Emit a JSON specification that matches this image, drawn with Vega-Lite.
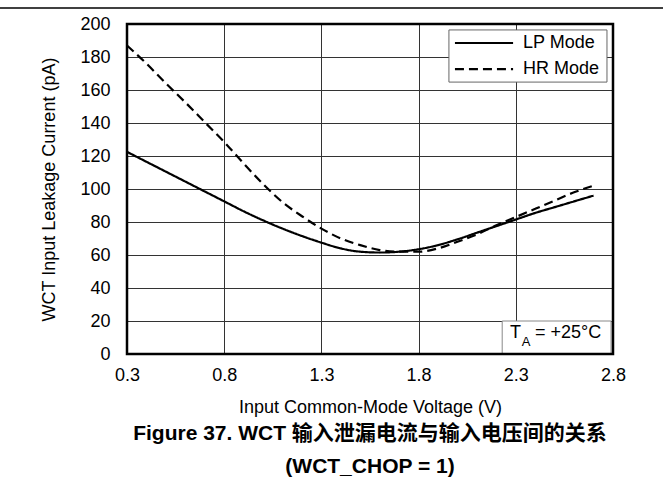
{
  "$schema": "https://vega.github.io/schema/vega-lite/v6.json",
  "width": 486,
  "height": 330,
  "autosize": {"type": "none"},
  "padding": {"left": 127, "top": 24, "right": 50, "bottom": 139},
  "background": "white",
  "config": {
    "font": "Liberation Sans, Noto Sans CJK SC",
    "view": {"stroke": null},
    "axis": {
      "labelFont": "Liberation Sans",
      "titleFont": "Liberation Sans",
      "labelFontSize": 18,
      "titleFontSize": 18,
      "titleFontWeight": "normal",
      "labelColor": "black",
      "titleColor": "black",
      "gridColor": "#333333",
      "gridOpacity": 1,
      "gridWidth": 1,
      "ticks": false,
      "domain": false,
      "labelOverlap": false,
      "labelFlush": false,
      "labelBound": false
    }
  },
  "title": {
    "text": ["Figure 37. WCT 输入泄漏电流与输入电压间的关系", "(WCT_CHOP = 1)"],
    "orient": "bottom",
    "anchor": "middle",
    "font": "Liberation Sans, Noto Sans CJK SC",
    "fontSize": 21,
    "fontWeight": "bold",
    "color": "black",
    "lineHeight": 33,
    "offset": 7
  },
  "data": {
    "values": [
      {"v": 0.3, "current": 122.5, "mode": "LP Mode"},
      {"v": 0.4, "current": 116.5, "mode": "LP Mode"},
      {"v": 0.5, "current": 110.5, "mode": "LP Mode"},
      {"v": 0.6, "current": 104.5, "mode": "LP Mode"},
      {"v": 0.7, "current": 98.5, "mode": "LP Mode"},
      {"v": 0.8, "current": 92.5, "mode": "LP Mode"},
      {"v": 0.9, "current": 86.5, "mode": "LP Mode"},
      {"v": 1.0, "current": 81, "mode": "LP Mode"},
      {"v": 1.1, "current": 76, "mode": "LP Mode"},
      {"v": 1.2, "current": 71.5, "mode": "LP Mode"},
      {"v": 1.3, "current": 67.5, "mode": "LP Mode"},
      {"v": 1.4, "current": 64, "mode": "LP Mode"},
      {"v": 1.5, "current": 62, "mode": "LP Mode"},
      {"v": 1.6, "current": 61.5, "mode": "LP Mode"},
      {"v": 1.7, "current": 62, "mode": "LP Mode"},
      {"v": 1.8, "current": 63.5, "mode": "LP Mode"},
      {"v": 1.9, "current": 66, "mode": "LP Mode"},
      {"v": 2.0, "current": 69.5, "mode": "LP Mode"},
      {"v": 2.1, "current": 73.5, "mode": "LP Mode"},
      {"v": 2.2, "current": 77.5, "mode": "LP Mode"},
      {"v": 2.3, "current": 81.5, "mode": "LP Mode"},
      {"v": 2.4, "current": 85.5, "mode": "LP Mode"},
      {"v": 2.5, "current": 89, "mode": "LP Mode"},
      {"v": 2.6, "current": 92.5, "mode": "LP Mode"},
      {"v": 2.7, "current": 96, "mode": "LP Mode"},
      {"v": 0.3, "current": 187, "mode": "HR Mode"},
      {"v": 0.4, "current": 176, "mode": "HR Mode"},
      {"v": 0.5, "current": 164, "mode": "HR Mode"},
      {"v": 0.6, "current": 152.5, "mode": "HR Mode"},
      {"v": 0.7, "current": 140.5, "mode": "HR Mode"},
      {"v": 0.8, "current": 128.5, "mode": "HR Mode"},
      {"v": 0.9, "current": 115.5, "mode": "HR Mode"},
      {"v": 1.0, "current": 103, "mode": "HR Mode"},
      {"v": 1.1, "current": 92, "mode": "HR Mode"},
      {"v": 1.2, "current": 83.5, "mode": "HR Mode"},
      {"v": 1.3, "current": 76, "mode": "HR Mode"},
      {"v": 1.4, "current": 70, "mode": "HR Mode"},
      {"v": 1.5, "current": 66, "mode": "HR Mode"},
      {"v": 1.6, "current": 63, "mode": "HR Mode"},
      {"v": 1.7, "current": 62, "mode": "HR Mode"},
      {"v": 1.8, "current": 62, "mode": "HR Mode"},
      {"v": 1.9, "current": 64, "mode": "HR Mode"},
      {"v": 2.0, "current": 68, "mode": "HR Mode"},
      {"v": 2.1, "current": 72.5, "mode": "HR Mode"},
      {"v": 2.2, "current": 78, "mode": "HR Mode"},
      {"v": 2.3, "current": 83, "mode": "HR Mode"},
      {"v": 2.4, "current": 88, "mode": "HR Mode"},
      {"v": 2.5, "current": 93, "mode": "HR Mode"},
      {"v": 2.6, "current": 98, "mode": "HR Mode"},
      {"v": 2.7, "current": 102, "mode": "HR Mode"}
    ]
  },
  "layer": [
    {
      "mark": {"type": "line", "color": "black", "strokeWidth": 2.2, "interpolate": "monotone"},
      "encoding": {
        "x": {
          "field": "v", "type": "quantitative",
          "scale": {"domain": [0.3, 2.8], "nice": false, "zero": false},
          "axis": {
            "values": [0.3, 0.8, 1.3, 1.8, 2.3, 2.8],
            "tickCount": 20,
            "format": ".1f",
            "title": "Input Common-Mode Voltage (V)",
            "grid": true,
            "labelPadding": 12,
            "titlePadding": 14
          }
        },
        "y": {
          "field": "current", "type": "quantitative",
          "scale": {"domain": [0, 200], "nice": false},
          "axis": {
            "values": [0, 20, 40, 60, 80, 100, 120, 140, 160, 180, 200],
            "tickCount": 20,
            "title": "WCT Input Leakage Current (pA)",
            "grid": true,
            "labelPadding": 17,
            "titlePadding": 21
          }
        },
        "strokeDash": {
          "field": "mode", "type": "nominal",
          "scale": {"domain": ["LP Mode", "HR Mode"], "range": [[1, 0], [9, 5]]},
          "legend": null
        },
        "detail": {"field": "mode"}
      }
    },
    {
      "data": {"values": [{}]},
      "mark": {"type": "rect", "fill": "white", "stroke": "#888888", "strokeWidth": 1},
      "encoding": {
        "x": {"datum": 2.23, "type": "quantitative"},
        "x2": {"datum": 2.79},
        "y": {"datum": 0, "type": "quantitative"},
        "y2": {"datum": 20}
      }
    },
    {
      "data": {"values": [{}]},
      "mark": {"type": "text", "text": "T", "fontSize": 18, "align": "left", "baseline": "middle", "color": "black"},
      "encoding": {"x": {"datum": 2.27, "type": "quantitative"}, "y": {"datum": 12.7, "type": "quantitative"}}
    },
    {
      "data": {"values": [{}]},
      "mark": {"type": "text", "text": "A", "fontSize": 13, "align": "left", "baseline": "middle", "color": "black"},
      "encoding": {"x": {"datum": 2.33, "type": "quantitative"}, "y": {"datum": 7.5, "type": "quantitative"}}
    },
    {
      "data": {"values": [{}]},
      "mark": {"type": "text", "text": "= +25°C", "fontSize": 18, "align": "left", "baseline": "middle", "color": "black"},
      "encoding": {"x": {"datum": 2.399, "type": "quantitative"}, "y": {"datum": 12.7, "type": "quantitative"}}
    },
    {
      "data": {"values": [{}]},
      "mark": {"type": "rect", "fill": "white", "stroke": "#666666", "strokeWidth": 1},
      "encoding": {
        "x": {"datum": 1.956, "type": "quantitative"},
        "x2": {"datum": 2.769},
        "y": {"datum": 164.8, "type": "quantitative"},
        "y2": {"datum": 196.4}
      }
    },
    {
      "data": {"values": [{}]},
      "mark": {"type": "rule", "color": "black", "strokeWidth": 2.2},
      "encoding": {
        "x": {"datum": 1.987, "type": "quantitative"},
        "x2": {"datum": 2.286},
        "y": {"datum": 188.5, "type": "quantitative"}
      }
    },
    {
      "data": {"values": [{}]},
      "mark": {"type": "rule", "color": "black", "strokeWidth": 2.2, "strokeDash": [9, 5]},
      "encoding": {
        "x": {"datum": 1.987, "type": "quantitative"},
        "x2": {"datum": 2.286},
        "y": {"datum": 172.7, "type": "quantitative"}
      }
    },
    {
      "data": {"values": [{}]},
      "mark": {"type": "text", "text": "LP Mode", "fontSize": 18, "align": "left", "baseline": "middle", "color": "black"},
      "encoding": {"x": {"datum": 2.337, "type": "quantitative"}, "y": {"datum": 188.5, "type": "quantitative"}}
    },
    {
      "data": {"values": [{}]},
      "mark": {"type": "text", "text": "HR Mode", "fontSize": 18, "align": "left", "baseline": "middle", "color": "black"},
      "encoding": {"x": {"datum": 2.337, "type": "quantitative"}, "y": {"datum": 172.7, "type": "quantitative"}}
    },
    {
      "data": {"values": [{}]},
      "mark": {"type": "rect", "fill": null, "fillOpacity": 0, "stroke": "black", "strokeWidth": 2.5},
      "encoding": {
        "x": {"datum": 0.3, "type": "quantitative"},
        "x2": {"datum": 2.8},
        "y": {"datum": 0, "type": "quantitative"},
        "y2": {"datum": 200}
      }
    },
    {
      "data": {"values": [{}]},
      "mark": {"type": "rule", "color": "black", "strokeWidth": 1.5},
      "encoding": {
        "x": {"datum": -0.36, "type": "quantitative"},
        "x2": {"datum": 3.06},
        "y": {"datum": 209.7, "type": "quantitative"}
      }
    }
  ]
}
